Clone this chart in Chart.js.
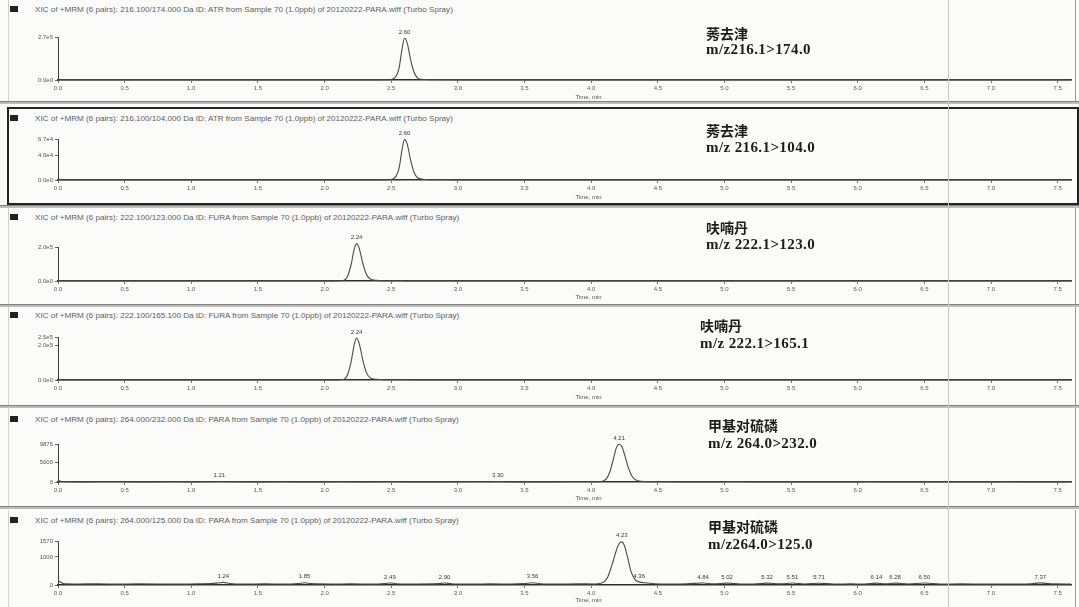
<!DOCTYPE html>
<html>
<head>
<meta charset="utf-8">
<title>XIC MRM</title>
<script src="https://cdn.jsdelivr.net/npm/chart.js@4.4.1/dist/chart.umd.min.js"></script>
<style>
html, body { margin: 0; padding: 0; background: #fbfbfa; }
#page { position: relative; width: 1079px; height: 607px; overflow: hidden; font-family: "Liberation Sans", Arial, sans-serif; }
.frame { position: absolute; left: 8px; width: 1066px; border-left: 1px solid #d0d0d0; border-right: 1px solid #9a9a9a; }
.boxed { border: 2px solid #222; }
.hdr { position: absolute; left: 35px; font-size: 8.1px; color: #606060; white-space: nowrap; line-height: 9px; }
.sq { position: absolute; left: 10px; width: 8px; height: 6px; background: #222; }
.cn { position: absolute; font-family: "Noto Sans CJK SC", sans-serif; font-weight: 700; font-size: 14px; color: #1c1c1c; line-height: 15px; }
.mz { position: absolute; font-family: "Liberation Serif", serif; font-weight: 700; font-size: 15px; letter-spacing: 0.4px; color: #1c1c1c; line-height: 15px; white-space: nowrap; }
.sep { position: absolute; left: 0; width: 1079px; height: 2px; background: #bdbdbd; border-top: 1px solid #808080; }
.fold { position: absolute; top: 0; left: 948px; width: 1px; height: 607px; background: #c8c8c8; }
canvas { position: absolute; left: 0; }
</style>
</head>
<body>
<div id="page"></div>
<script>
// Retention-time axis ticks (min)
const timeTicks = [0.0, 0.5, 1.0, 1.5, 2.0, 2.5, 3.0, 3.5, 4.0, 4.5, 5.0, 5.5, 6.0, 6.5, 7.0, 7.5];

// Atrazine, 216.1 > 174.0  [time (min), intensity (cps)]
const atr174Points = [[0.00,6000],[0.02,900],[0.20,700],[0.40,850],[0.60,650],[0.80,800],[1.00,700],[1.20,900],[1.40,750],[1.60,680],[1.80,820],[2.00,760],[2.20,900],[2.40,1000],[2.49,1800],[2.53,16000],[2.56,80000],[2.58,190000],[2.60,262000],[2.62,232000],[2.645,130000],[2.67,52000],[2.70,12000],[2.75,3000],[2.85,1300],[3.00,1000],[3.20,800],[3.40,900],[3.60,720],[3.80,850],[4.00,700],[4.20,800],[4.40,760],[4.60,680],[4.80,820],[5.00,740],[5.20,800],[5.40,700],[5.60,760],[5.80,820],[6.00,690],[6.20,780],[6.40,720],[6.60,800],[6.80,700],[7.00,760],[7.20,720],[7.40,780],[7.60,740]];
const atr174YTicks = [0, 2.7e5];
const atr174YLabels = ['0.0e0', '2.7e5'];
const atr174PeakLabels = ['2.60'];

// Atrazine, 216.1 > 104.0
const atr104Points = [[0.00,1800],[0.02,240],[0.20,200],[0.40,230],[0.60,180],[0.80,220],[1.00,190],[1.20,240],[1.40,200],[1.60,185],[1.80,225],[2.00,205],[2.20,240],[2.40,280],[2.49,500],[2.53,4200],[2.56,20500],[2.58,48000],[2.60,66000],[2.62,58500],[2.645,33000],[2.67,13000],[2.70,3200],[2.75,900],[2.85,380],[3.00,260],[3.20,210],[3.40,240],[3.60,190],[3.80,220],[4.00,185],[4.20,210],[4.40,200],[4.60,180],[4.80,215],[5.00,195],[5.20,210],[5.40,185],[5.60,200],[5.80,215],[6.00,180],[6.20,205],[6.40,190],[6.60,210],[6.80,185],[7.00,200],[7.20,190],[7.40,205],[7.60,195]];
const atr104YTicks = [0, 4.0e4, 6.7e4];
const atr104YLabels = ['0.0e0', '4.0e4', '6.7e4'];
const atr104PeakLabels = ['2.60'];

// Carbofuran, 222.1 > 123.0
const fura123Points = [[0.00,5000],[0.02,800],[0.20,650],[0.40,700],[0.60,620],[0.80,680],[1.00,640],[1.20,700],[1.40,660],[1.60,620],[1.80,690],[2.00,720],[2.10,900],[2.14,2800],[2.17,24000],[2.20,100000],[2.22,180000],[2.24,220000],[2.26,192000],[2.285,110000],[2.31,46000],[2.34,13000],[2.39,3800],[2.46,1700],[2.60,1000],[2.80,760],[3.00,700],[3.20,660],[3.40,720],[3.60,640],[3.80,690],[4.00,650],[4.20,700],[4.40,630],[4.60,680],[4.80,660],[5.00,700],[5.20,640],[5.40,680],[5.60,650],[5.80,700],[6.00,630],[6.20,690],[6.40,660],[6.60,700],[6.80,640],[7.00,680],[7.20,650],[7.40,690],[7.60,660]];
const fura123YTicks = [0, 2.0e5];
const fura123YLabels = ['0.0e0', '2.0e5'];
const fura123PeakLabels = ['2.24'];

// Carbofuran, 222.1 > 165.1
const fura165Points = [[0.00,5200],[0.02,820],[0.20,660],[0.40,720],[0.60,640],[0.80,700],[1.00,650],[1.20,710],[1.40,670],[1.60,630],[1.80,700],[2.00,740],[2.10,950],[2.14,3000],[2.17,26000],[2.20,110000],[2.22,196000],[2.24,244000],[2.26,212000],[2.285,122000],[2.31,50000],[2.34,14000],[2.39,4000],[2.46,1800],[2.60,1050],[2.80,780],[3.00,720],[3.20,680],[3.40,740],[3.60,660],[3.80,700],[4.00,670],[4.20,720],[4.40,650],[4.60,700],[4.80,670],[5.00,710],[5.20,650],[5.40,690],[5.60,660],[5.80,710],[6.00,640],[6.20,700],[6.40,670],[6.60,710],[6.80,650],[7.00,690],[7.20,660],[7.40,700],[7.60,670]];
const fura165YTicks = [0, 2.0e5, 2.5e5];
const fura165YLabels = ['0.0e0', '2.0e5', '2.5e5'];
const fura165PeakLabels = ['2.24'];

// Parathion-methyl, 264.0 > 232.0
const para232Points = [[0.00,420],[0.04,60],[0.20,45],[0.40,52],[0.60,40],[0.80,48],[1.00,44],[1.12,50],[1.17,80],[1.21,130],[1.25,78],[1.32,46],[1.50,42],[1.70,50],[1.90,38],[2.10,46],[2.30,40],[2.50,48],[2.70,42],[2.90,38],[3.10,46],[3.22,50],[3.26,72],[3.30,110],[3.34,70],[3.42,44],[3.60,40],[3.80,46],[3.98,50],[4.07,110],[4.11,700],[4.14,2600],[4.17,6400],[4.19,9000],[4.21,9800],[4.23,9200],[4.255,6600],[4.28,3600],[4.31,1300],[4.35,320],[4.41,90],[4.52,52],[4.70,44],[4.90,40],[5.10,46],[5.30,42],[5.50,38],[5.70,44],[5.90,40],[6.10,46],[6.30,42],[6.50,38],[6.70,44],[6.90,40],[7.10,46],[7.30,42],[7.50,38],[7.60,40]];
const para232YTicks = [0, 5000, 9876];
const para232YLabels = ['0', '5000', '9876'];
const para232PeakLabels = ['1.21', '3.30', '4.21'];

// Parathion-methyl, 264.0 > 125.0
const para125Points = [[0.00,150],[0.05,40],[0.15,35],[0.30,45],[0.45,30],[0.60,42],[0.75,38],[0.90,30],[1.05,44],[1.15,50],[1.20,70],[1.24,92],[1.29,55],[1.40,36],[1.55,40],[1.70,32],[1.80,52],[1.85,78],[1.90,48],[2.05,34],[2.20,42],[2.35,30],[2.45,50],[2.49,74],[2.54,46],[2.70,35],[2.85,48],[2.90,70],[2.95,44],[3.10,32],[3.25,40],[3.40,35],[3.50,52],[3.56,80],[3.62,46],[3.75,34],[3.90,40],[4.02,38],[4.08,70],[4.12,240],[4.155,700],[4.19,1250],[4.21,1480],[4.23,1540],[4.25,1400],[4.275,950],[4.30,470],[4.33,190],[4.36,112],[4.40,80],[4.48,46],[4.60,36],[4.72,42],[4.84,72],[4.92,40],[5.02,68],[5.12,38],[5.22,34],[5.32,66],[5.42,40],[5.51,70],[5.60,38],[5.71,64],[5.82,36],[5.95,40],[6.05,34],[6.14,66],[6.21,42],[6.28,68],[6.38,38],[6.50,70],[6.62,36],[6.78,40],[6.95,33],[7.10,38],[7.22,35],[7.30,44],[7.37,76],[7.45,40],[7.60,36]];
const para125YTicks = [0, 1000, 1570];
const para125YLabels = ['0', '1000', '1570'];
const para125PeakLabels = ['1.24', '1.85', '2.49', '2.90', '3.56', '4.23', '4.36', '4.84', '5.02', '5.32', '5.51', '5.71', '6.14', '6.28', '6.50', '7.37'];

const panels = [
  { points: atr174Points, yTicks: atr174YTicks, yLabels: atr174YLabels, peakLabels: atr174PeakLabels,
    header: 'XIC of +MRM (6 pairs): 216.100/174.000 Da ID: ATR from Sample 70 (1.0ppb) of 20120222-PARA.wiff (Turbo Spray)',
    name: '莠去津', transition: 'm/z216.1>174.0',
    frameTop: 0, frameBottom: 101, hdrY: 5, canvasTop: 18, plotTop: 37, baseline: 80, canvasBottom: 101, timeY: 97, textX: 706, nameY: 26, mzY: 42 },
  { points: atr104Points, yTicks: atr104YTicks, yLabels: atr104YLabels, peakLabels: atr104PeakLabels,
    header: 'XIC of +MRM (6 pairs): 216.100/104.000 Da ID: ATR from Sample 70 (1.0ppb) of 20120222-PARA.wiff (Turbo Spray)',
    name: '莠去津', transition: 'm/z 216.1>104.0', boxed: true,
    frameTop: 107, frameBottom: 205, hdrY: 114, canvasTop: 120, plotTop: 139, baseline: 180, canvasBottom: 203, timeY: 197, textX: 706, nameY: 123, mzY: 140 },
  { points: fura123Points, yTicks: fura123YTicks, yLabels: fura123YLabels, peakLabels: fura123PeakLabels,
    header: 'XIC of +MRM (6 pairs): 222.100/123.000 Da ID: FURA from Sample 70 (1.0ppb) of 20120222-PARA.wiff (Turbo Spray)',
    name: '呋喃丹', transition: 'm/z 222.1>123.0',
    frameTop: 208, frameBottom: 304, hdrY: 213, canvasTop: 222, plotTop: 247, baseline: 281, canvasBottom: 304, timeY: 297, textX: 706, nameY: 220, mzY: 237 },
  { points: fura165Points, yTicks: fura165YTicks, yLabels: fura165YLabels, peakLabels: fura165PeakLabels,
    header: 'XIC of +MRM (6 pairs): 222.100/165.100 Da ID: FURA from Sample 70 (1.0ppb) of 20120222-PARA.wiff (Turbo Spray)',
    name: '呋喃丹', transition: 'm/z 222.1>165.1',
    frameTop: 307, frameBottom: 405, hdrY: 311, canvasTop: 320, plotTop: 337, baseline: 380, canvasBottom: 405, timeY: 397, textX: 700, nameY: 318, mzY: 336 },
  { points: para232Points, yTicks: para232YTicks, yLabels: para232YLabels, peakLabels: para232PeakLabels,
    header: 'XIC of +MRM (6 pairs): 264.000/232.000 Da ID: PARA from Sample 70 (1.0ppb) of 20120222-PARA.wiff (Turbo Spray)',
    name: '甲基对硫磷', transition: 'm/z 264.0>232.0',
    frameTop: 408, frameBottom: 506, hdrY: 415, canvasTop: 425, plotTop: 444, baseline: 482, canvasBottom: 505, timeY: 498, textX: 708, nameY: 418, mzY: 436 },
  { points: para125Points, yTicks: para125YTicks, yLabels: para125YLabels, peakLabels: para125PeakLabels,
    header: 'XIC of +MRM (6 pairs): 264.000/125.000 Da ID: PARA from Sample 70 (1.0ppb) of 20120222-PARA.wiff (Turbo Spray)',
    name: '甲基对硫磷', transition: 'm/z264.0>125.0',
    frameTop: 510, frameBottom: 607, hdrY: 516, canvasTop: 525, plotTop: 541, baseline: 585, canvasBottom: 607, timeY: 600, textX: 708, nameY: 519, mzY: 537 }
];

const page = document.getElementById('page');
const separators = [101, 205, 304, 405, 506];
separators.forEach(y => {
  const s = document.createElement('div');
  s.className = 'sep';
  s.style.top = y + 'px';
  page.appendChild(s);
});

// Draws retention-time labels above the peaks and the axis caption
const annotate = {
  id: 'annotate',
  afterDraw(chart, args, opts) {
    const p = opts.panel;
    const ctx = chart.ctx;
    const xs = chart.scales.x, ys = chart.scales.y;
    ctx.save();
    ctx.fillStyle = '#3a3a3a';
    ctx.font = '6px "Liberation Sans", Arial, sans-serif';
    ctx.textAlign = 'center';
    ctx.textBaseline = 'bottom';
    p.peakLabels.forEach(lbl => {
      const t = parseFloat(lbl);
      const pt = p.points.find(d => Math.abs(d[0] - t) < 1e-9);
      if (!pt) return;
      const px = xs.getPixelForValue(pt[0]);
      const py = ys.getPixelForValue(pt[1]);
      ctx.fillText(lbl, px, py - 3);
    });
    ctx.textBaseline = 'middle';
    ctx.fillStyle = '#555';
    ctx.fillText('Time, min', xs.getPixelForValue(3.98), p.timeY - p.canvasTop);
    ctx.restore();
  }
};

panels.forEach(p => {
  const frame = document.createElement('div');
  frame.className = 'frame' + (p.boxed ? ' boxed' : '');
  frame.style.top = p.frameTop + 'px';
  frame.style.height = (p.frameBottom - p.frameTop - (p.boxed ? 4 : 0)) + 'px';
  if (p.boxed) { frame.style.left = '7px'; frame.style.width = '1068px'; }
  page.appendChild(frame);

  const sq = document.createElement('div');
  sq.className = 'sq';
  sq.style.top = (p.hdrY + 1) + 'px';
  page.appendChild(sq);

  const hdr = document.createElement('div');
  hdr.className = 'hdr';
  hdr.style.top = p.hdrY + 'px';
  hdr.textContent = p.header;
  page.appendChild(hdr);

  const cv = document.createElement('canvas');
  cv.width = 1079;
  cv.height = p.canvasBottom - p.canvasTop;
  cv.style.top = p.canvasTop + 'px';
  page.appendChild(cv);

  const cn = document.createElement('div');
  cn.className = 'cn';
  cn.style.left = p.textX + 'px';
  cn.style.top = p.nameY + 'px';
  cn.textContent = p.name;
  page.appendChild(cn);

  const mz = document.createElement('div');
  mz.className = 'mz';
  mz.style.left = p.textX + 'px';
  mz.style.top = p.mzY + 'px';
  mz.textContent = p.transition;
  page.appendChild(mz);

  const yMax = p.yTicks[p.yTicks.length - 1];
  new Chart(cv, {
    type: 'line',
    data: {
      datasets: [{
        data: p.points.map(d => ({ x: d[0], y: d[1] })),
        borderColor: '#4a4a4a',
        borderWidth: 1.1,
        pointRadius: 0,
        cubicInterpolationMode: 'monotone',
        clip: false
      }]
    },
    options: {
      responsive: false,
      animation: false,
      devicePixelRatio: 1,
      layout: { padding: { top: p.plotTop - p.canvasTop, right: 8, left: 0, bottom: 0 } },
      plugins: { legend: { display: false }, tooltip: { enabled: false }, annotate: { panel: p } },
      scales: {
        x: {
          type: 'linear', min: 0, max: 7.6,
          afterBuildTicks: s => { s.ticks = timeTicks.map(v => ({ value: v })); },
          afterFit: s => { s.height = p.canvasBottom - p.baseline; },
          ticks: { font: { size: 6, family: '"Liberation Sans", Arial, sans-serif' }, color: '#5c5c5c', padding: 2, maxRotation: 0, autoSkip: false, callback: v => Number(v).toFixed(1) },
          grid: { drawOnChartArea: false, tickLength: 3, color: '#777' },
          border: { color: '#2e2e2e', width: 1.6 }
        },
        y: {
          min: 0, max: yMax,
          afterBuildTicks: s => { s.ticks = p.yTicks.map(v => ({ value: v })); },
          afterFit: s => { s.width = 58; },
          ticks: { font: { size: 6, family: '"Liberation Sans", Arial, sans-serif' }, color: '#555', padding: 2, autoSkip: false, callback: (v, i) => p.yLabels[i] },
          grid: { drawOnChartArea: false, tickLength: 3, color: '#666' },
          border: { color: '#3a3a3a', width: 1 }
        }
      }
    },
    plugins: [annotate]
  });
});

const fold = document.createElement('div');
fold.className = 'fold';
page.appendChild(fold);
</script>
</body>
</html>
